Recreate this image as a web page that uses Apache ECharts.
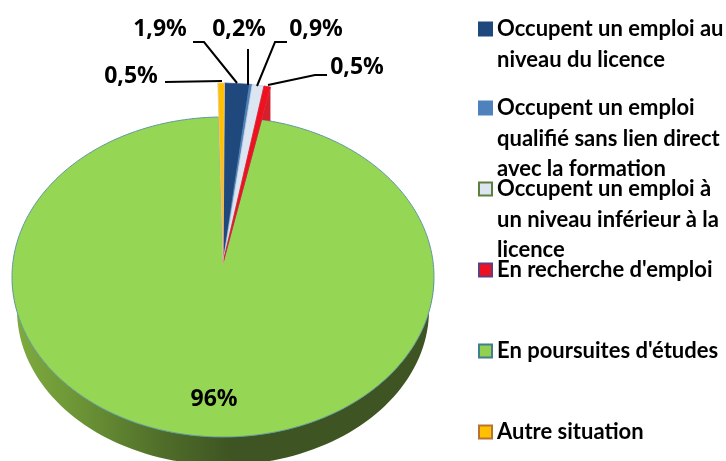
<!DOCTYPE html>
<html><head><meta charset="utf-8">
<style>html,body{margin:0;padding:0;background:#fff}#c{width:726px;height:461px}</style>
<script src="https://cdn.jsdelivr.net/npm/echarts@6/dist/echarts.min.js"></script>
</head><body><div id="c"></div>
<script>
const categories = [
  "Occupent un emploi au niveau du licence",
  "Occupent un emploi qualifié sans lien direct avec la formation",
  "Occupent un emploi à un niveau inférieur à la licence",
  "En recherche d'emploi",
  "En poursuites d'études",
  "Autre situation"
];
const values = [1.9, 0.2, 0.9, 0.5, 96, 0.5];
const valueLabels = ["1,9%", "0,2%", "0,9%", "0,5%", "96%", "0,5%"];
const legendLines = [
  ["Occupent un emploi au", "niveau du licence"],
  ["Occupent un emploi", "qualifié sans lien direct", "avec la formation"],
  ["Occupent un emploi à", "un niveau inférieur à la", "licence"],
  ["En recherche d'emploi"],
  ["En poursuites d'études"],
  ["Autre situation"]
];
const fills = ["#1F497D", "#4F81BD", "#DCE6F2", "#EE1120", "#95D655", "#FFC000"];
const strokes = ["#2a5288", "#4F81BD", "#c4d2df", "#d8222c", "#5f9aa0", "#e8c9a0"];
const legendBorders = ["#1F497D", "#4F81BD", "#5f7f3f", "#5f3f7f", "#3f7f8f", "#b87333"];
const markerCentres = [29, 108, 189, 270, 351, 432];
const labelAt = [[160, 29], [239, 29], [316, 29], [357, 67], [214, 399], [131, 76]];
const leaders = [
  [[193, 42], [204, 42], [237, 83]],
  [[248, 49], [248, 85]],
  [[287, 42], [275, 42], [257, 86]],
  [[327, 75], [315, 75], [268, 85]],
  null,
  [[165, 82], [222, 81]]
];

const geo = {cx: 223, cy: 277, rx: 211, ry: 160, apexY: 263, popCy: 240, popRy: 157,
             baseCy: 310, baseRx: 206, baseRy: 155, start: 0.4};
const total = values.reduce((a, b) => a + b, 0);
function bounds(i) {
  let s = geo.start;
  for (let k = 0; k < i; k++) s += values[k] / total * 360;
  return [s, s + values[i] / total * 360];
}
const rad = d => d * Math.PI / 180;
const deg = r => r * 180 / Math.PI;
const rim = d => [geo.cx + geo.rx * Math.sin(rad(d)), geo.cy - geo.ry * Math.cos(rad(d))];
const baseRim = d => [geo.cx + geo.baseRx * Math.sin(rad(d)), geo.baseCy - geo.baseRy * Math.cos(rad(d))];
const popRim = d => [geo.cx + geo.rx * Math.sin(rad(d)), geo.popCy - geo.popRy * Math.cos(rad(d))];
const apex = [geo.cx, geo.apexY];
// angle on the green rim where the edge of a raised slice meets it
const meet = d => deg(Math.asin(Math.sin(rad(d)) * (geo.apexY - (geo.cy - geo.ry)) / (geo.apexY - (geo.popCy - geo.popRy))));

function renderSlice(params, api) {
  const i = params.seriesIndex;
  const [a, b] = bounds(i);
  const children = [];
  if (i === 4) {
    const front = [], back = [];
    for (let d = 90; d <= 270; d += 2) {
      front.push(rim(d));
      back.unshift(baseRim(d));
    }
    children.push({type: 'polygon', shape: {points: front.concat(back)}, style: {
      fill: {type: 'linear', x: 0, y: 0, x2: 1, y2: 0, colorStops: [
        {offset: 0, color: '#80ac3f'}, {offset: 0.16, color: '#6c9436'},
        {offset: 0.36, color: '#4f6d29'}, {offset: 0.52, color: '#3e5422'}, {offset: 1, color: '#3e5422'}]}
    }});
    const pts = [apex];
    const from = meet(a), to = meet(b - 360) + 360;
    for (let d = from; d < to; d += 1) pts.push(rim(d));
    pts.push(rim(to));
    children.push({type: 'polygon', shape: {points: pts}, style: {fill: fills[i], stroke: strokes[i], lineWidth: 1, lineJoin: 'round'}});
  } else {
    const p1 = popRim(a), p2 = popRim(b);
    if (i === 3) {
      children.push({type: 'polygon', shape: {points: [p2, rim(b), rim(meet(b))]}, style: {fill: '#d4202c'}});
    }
    children.push({type: 'polygon', shape: {points: [apex, p1, p2]}, style: {fill: fills[i], stroke: strokes[i], lineWidth: 0.8, lineJoin: 'round'}});
  }
  if (leaders[i]) children.push({type: 'polyline', z2: 5, shape: {points: leaders[i]}, style: {fill: null, stroke: '#000', lineWidth: 2}});
  children.push({type: 'text', z2: 6, x: labelAt[i][0], y: labelAt[i][1], style: {
    text: valueLabels[i], fill: '#000', align: 'center', verticalAlign: 'middle',
    font: 'bold 23px "Noto Sans"'
  }});
  return {type: 'group', children};
}

const LH = 30.5;
const chart = echarts.init(document.getElementById('c'), null, {renderer: 'canvas'});
chart.setOption({
  animation: false,
  backgroundColor: '#fff',
  legend: categories.map((name, i) => {
    const n = legendLines[i].length;
    const textLines = Array(n - 1).fill('').concat(legendLines[i]);
    const h = textLines.length * LH;
    return {
      left: 478, top: markerCentres[i] - h / 2, orient: 'vertical', icon: 'rect',
      itemWidth: 13, itemHeight: 13, selectedMode: false, padding: 0,
      data: [{name, itemStyle: {color: i === 4 ? '#92D050' : fills[i], borderColor: legendBorders[i], borderWidth: 2}}],
      formatter: () => textLines.join('\n'),
      textStyle: {fontFamily: 'Lato', fontWeight: 'bold', fontSize: 22, color: '#000', lineHeight: LH}
    };
  }),
  series: categories.map((name, i) => ({
    type: 'custom', name, coordinateSystem: 'none', silent: true, z: i === 4 ? 1 : 2,
    renderItem: renderSlice, data: [[values[i]]], itemStyle: {color: fills[i]}
  }))
});
</script></body></html>
